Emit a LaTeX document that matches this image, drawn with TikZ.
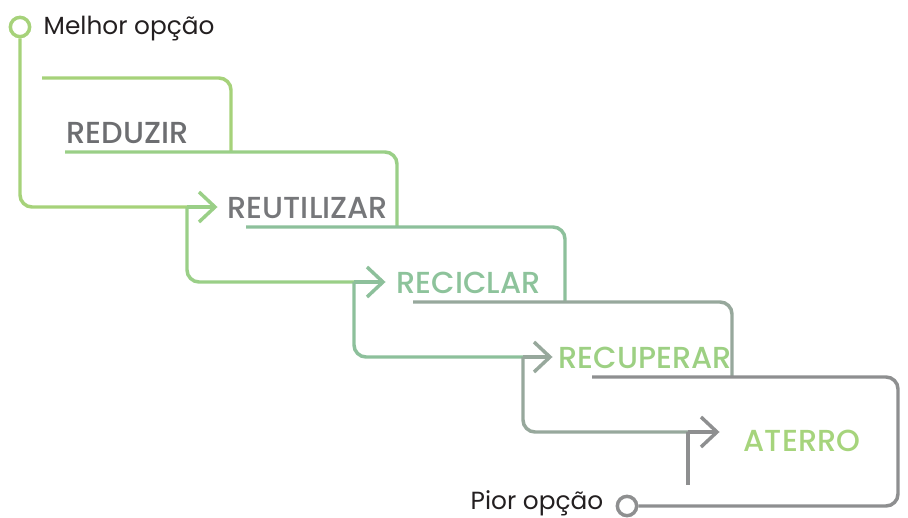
\documentclass[tikz,border=0pt]{standalone}
\usepackage{fontspec}
\setmainfont{Poppins}
\newfontfamily\medfont{Poppins Medium}
\definecolor{cA}{HTML}{A6D27A}
\definecolor{cB}{HTML}{9ACF87}
\definecolor{cC}{HTML}{8DC09B}
\definecolor{cD}{HTML}{97A89C}
\definecolor{cE}{HTML}{8E8F90}
\definecolor{tRed}{HTML}{6D6E71}
\definecolor{tReu}{HTML}{76777A}
\definecolor{tRec}{HTML}{8DC39B}
\definecolor{tRcp}{HTML}{9DD083}
\definecolor{tAte}{HTML}{A6D47C}
\definecolor{tDark}{HTML}{231F20}
\begin{document}
\begin{tikzpicture}[x=0.75pt,y=-0.75pt,
  line width=2.6pt,
  wire/.style={rounded corners=9pt},
  chev/.style={line join=miter},
  endring/.style={circle, draw, line width=2.6pt, minimum size=14.5pt, inner sep=0pt, fill=white},
  lbl/.style={anchor=base west, inner sep=0pt, font=\medfont\fontsize{22.8}{26}\selectfont},
  endlbl/.style={anchor=base west, inner sep=0pt, text=tDark, font=\fontsize{18.6}{22}\selectfont}]
\useasboundingbox (0,0) rectangle (908,518);
% named points
\coordinate (v1) at (187,207); \coordinate (t1) at (215,207);
\coordinate (v2) at (354,282); \coordinate (t2) at (383,282);
\coordinate (v3) at (523,357); \coordinate (t3) at (550,357);
\coordinate (v4) at (688,432); \coordinate (t4) at (717,432);
\coordinate (s4) at (688,485);
\coordinate (b0s) at (42,78);  \coordinate (b0e) at (231,152);
\coordinate (b1s) at (65,152); \coordinate (b1e) at (397,227);
\coordinate (b2s) at (246,227); \coordinate (b2e) at (565,302);
\coordinate (b3s) at (413,302); \coordinate (b3e) at (732,377);
\coordinate (b4s) at (592,377); \coordinate (b4c) at (898,377); \coordinate (b4d) at (898,506);
% end rings
\node[endring, draw=cA] (top) at (20,27) {};
\node[endring, draw=cE] (bot) at (627,506) {};
% labels
\node[endlbl] (best) at (42,34) {Melhor opção};
\node[endlbl] (worst) at (469,509) {Pior opção};
\node[lbl, text=tRed] (reduzir) at (65,143) {REDUZIR};
\node[lbl, text=tReu] (reutilizar) at (226,218) {REUTILIZAR};
\node[lbl, text=tRec] (reciclar) at (395,293) {RECICLAR};
\node[lbl, text=tRcp] (recuperar) at (557,368) {RECUPERAR};
\node[lbl, text=tAte] (aterro) at (742,451) {ATERRO};
% step lines (upper)
\draw[cA, wire] (b0s) -| (b0e);
\draw[cB, wire] (b1s) -| (b1e);
\draw[cC, wire] (b2s) -| (b2e);
\draw[cD, wire] (b3s) -| (b3e);
\draw[cE, wire] (b4s) -- (b4c) -- (b4d) -- (bot.east);
% return lines (lower)
\draw[cA, wire] (top.south) |- (v1);
\draw[cB] (v1) -- (t1);
\draw[cB, wire] (v1) |- (v2);
\draw[cC] (v2) -- (t2);
\draw[cC, wire] (v2) |- (v3);
\draw[cD] (v3) -- (t3);
\draw[cD, wire] (v3) |- (v4);
\draw[cE] (v4) -- (t4);
\draw[cE] (v4) -- (s4);
% chevrons
\draw[cB, chev] ([shift={(-16,-15)}]t1) -- (t1) -- ([shift={(-16,15)}]t1);
\draw[cC, chev] ([shift={(-16,-15)}]t2) -- (t2) -- ([shift={(-16,15)}]t2);
\draw[cD, chev] ([shift={(-16,-15)}]t3) -- (t3) -- ([shift={(-16,15)}]t3);
\draw[cE, chev] ([shift={(-16,-15)}]t4) -- (t4) -- ([shift={(-16,15)}]t4);
\end{tikzpicture}
\end{document}
